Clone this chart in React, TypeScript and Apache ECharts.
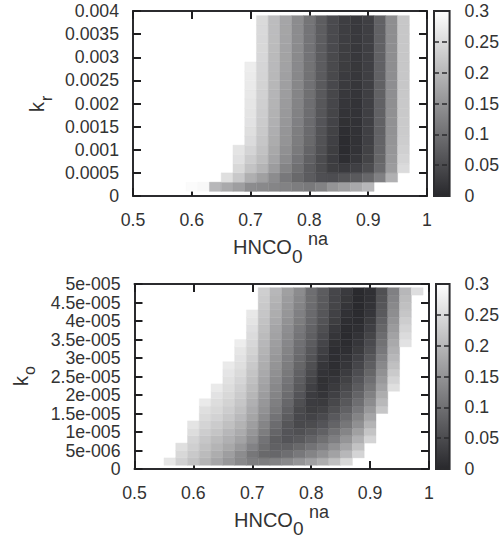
import React, { useEffect, useRef } from "react";
import * as echarts from "echarts";

const _ = null;
const FONT = "Liberation Sans";
const INK = "#2b2b2e";
const xCenters = [0.52, 0.54, 0.56, 0.58, 0.6, 0.62, 0.64, 0.66, 0.68, 0.7, 0.72, 0.74, 0.76, 0.78, 0.8, 0.82, 0.84, 0.86, 0.88, 0.9, 0.92, 0.94, 0.96, 0.98];

// k_r panel: rows from k_r = 0.0002 up to 0.0038
const krRows = [
  [_, _, _, _, 0.295, 0.29, 0.2, 0.18, 0.165, 0.14, 0.135, 0.13, 0.125, 0.118, 0.113, 0.125, 0.15, 0.165, 0.18, 0.2, _, _, _, _],
  [_, _, _, _, _, _, _, 0.255, 0.223, 0.188, 0.167, 0.14, 0.112, 0.09, 0.073, 0.055, 0.052, 0.06, 0.07, 0.088, 0.123, 0.19, _, _],
  [_, _, _, _, _, _, _, _, 0.245, 0.216, 0.195, 0.162, 0.128, 0.1, 0.073, 0.05, 0.03, 0.025, 0.034, 0.05, 0.092, 0.162, 0.25, _],
  [_, _, _, _, _, _, _, _, 0.257, 0.229, 0.208, 0.173, 0.14, 0.108, 0.078, 0.05, 0.028, 0.008, 0.02, 0.039, 0.086, 0.156, 0.24, _],
  [_, _, _, _, _, _, _, _, 0.262, 0.24, 0.215, 0.178, 0.145, 0.114, 0.084, 0.056, 0.03, 0.006, 0.016, 0.036, 0.084, 0.154, 0.235, _],
  [_, _, _, _, _, _, _, _, _, 0.25, 0.22, 0.184, 0.15, 0.118, 0.09, 0.058, 0.034, 0.006, 0.014, 0.034, 0.082, 0.15, 0.23, _],
  [_, _, _, _, _, _, _, _, _, 0.255, 0.224, 0.187, 0.152, 0.12, 0.092, 0.06, 0.036, 0.008, 0.014, 0.034, 0.08, 0.148, 0.228, _],
  [_, _, _, _, _, _, _, _, _, 0.26, 0.227, 0.19, 0.155, 0.123, 0.094, 0.062, 0.038, 0.012, 0.014, 0.032, 0.08, 0.146, 0.226, _],
  [_, _, _, _, _, _, _, _, _, 0.262, 0.23, 0.192, 0.158, 0.125, 0.096, 0.064, 0.04, 0.016, 0.015, 0.032, 0.079, 0.145, 0.225, _],
  [_, _, _, _, _, _, _, _, _, 0.265, 0.233, 0.195, 0.16, 0.128, 0.098, 0.066, 0.042, 0.02, 0.016, 0.032, 0.079, 0.144, 0.224, _],
  [_, _, _, _, _, _, _, _, _, 0.268, 0.236, 0.197, 0.163, 0.13, 0.1, 0.068, 0.043, 0.023, 0.018, 0.032, 0.079, 0.143, 0.223, _],
  [_, _, _, _, _, _, _, _, _, 0.27, 0.238, 0.199, 0.166, 0.132, 0.102, 0.07, 0.045, 0.025, 0.02, 0.032, 0.079, 0.143, 0.222, _],
  [_, _, _, _, _, _, _, _, _, 0.272, 0.24, 0.201, 0.168, 0.134, 0.103, 0.071, 0.046, 0.027, 0.021, 0.032, 0.079, 0.142, 0.222, _],
  [_, _, _, _, _, _, _, _, _, 0.275, 0.242, 0.203, 0.17, 0.136, 0.104, 0.072, 0.047, 0.029, 0.022, 0.032, 0.079, 0.142, 0.222, _],
  [_, _, _, _, _, _, _, _, _, _, 0.244, 0.204, 0.171, 0.137, 0.105, 0.073, 0.047, 0.03, 0.023, 0.032, 0.079, 0.142, 0.222, _],
  [_, _, _, _, _, _, _, _, _, _, 0.245, 0.205, 0.172, 0.138, 0.105, 0.073, 0.048, 0.03, 0.023, 0.032, 0.079, 0.142, 0.222, _],
  [_, _, _, _, _, _, _, _, _, _, 0.246, 0.206, 0.173, 0.139, 0.106, 0.074, 0.048, 0.031, 0.024, 0.032, 0.079, 0.142, 0.222, _],
  [_, _, _, _, _, _, _, _, _, _, 0.247, 0.207, 0.174, 0.14, 0.106, 0.074, 0.048, 0.031, 0.024, 0.032, 0.079, 0.142, 0.222, _],
  [_, _, _, _, _, _, _, _, _, _, 0.248, 0.207, 0.175, 0.14, 0.107, 0.074, 0.048, 0.031, 0.024, 0.032, 0.079, 0.142, 0.222, _],
];

// k_o panel: rows from k_o = 2e-6 up to 4.8e-5
const koRows = [
  [_, _, 0.265, 0.235, 0.215, 0.195, 0.175, 0.155, 0.135, 0.12, 0.118, 0.125, 0.135, 0.15, 0.168, 0.185, 0.21, 0.245, _, _, _, _, _, _],
  [_, _, _, 0.245, 0.225, 0.205, 0.185, 0.165, 0.14, 0.11, 0.09, 0.088, 0.098, 0.112, 0.128, 0.146, 0.17, 0.2, 0.24, _, _, _, _, _],
  [_, _, _, 0.255, 0.233, 0.212, 0.195, 0.178, 0.156, 0.126, 0.097, 0.08, 0.078, 0.09, 0.105, 0.122, 0.146, 0.175, 0.215, _, _, _, _, _],
  [_, _, _, _, 0.24, 0.22, 0.205, 0.19, 0.172, 0.142, 0.105, 0.076, 0.062, 0.068, 0.082, 0.1, 0.122, 0.152, 0.19, 0.24, _, _, _, _],
  [_, _, _, _, 0.252, 0.23, 0.217, 0.2, 0.183, 0.154, 0.118, 0.085, 0.062, 0.056, 0.065, 0.08, 0.102, 0.13, 0.167, 0.217, _, _, _, _],
  [_, _, _, _, 0.262, 0.24, 0.228, 0.212, 0.194, 0.165, 0.13, 0.095, 0.064, 0.046, 0.05, 0.062, 0.084, 0.11, 0.145, 0.195, _, _, _, _],
  [_, _, _, _, _, 0.248, 0.237, 0.222, 0.203, 0.174, 0.14, 0.105, 0.072, 0.045, 0.038, 0.048, 0.069, 0.094, 0.128, 0.175, _, _, _, _],
  [_, _, _, _, _, 0.255, 0.245, 0.23, 0.212, 0.182, 0.148, 0.114, 0.08, 0.046, 0.03, 0.036, 0.056, 0.08, 0.112, 0.156, 0.22, _, _, _],
  [_, _, _, _, _, 0.27, 0.252, 0.238, 0.22, 0.19, 0.155, 0.121, 0.088, 0.054, 0.028, 0.026, 0.044, 0.067, 0.098, 0.14, 0.202, _, _, _],
  [_, _, _, _, _, _, 0.26, 0.245, 0.228, 0.198, 0.162, 0.128, 0.095, 0.062, 0.028, 0.018, 0.034, 0.056, 0.084, 0.124, 0.185, _, _, _],
  [_, _, _, _, _, _, 0.27, 0.252, 0.235, 0.205, 0.169, 0.134, 0.102, 0.068, 0.034, 0.014, 0.026, 0.046, 0.072, 0.11, 0.17, 0.255, _, _],
  [_, _, _, _, _, _, _, 0.258, 0.242, 0.212, 0.175, 0.14, 0.108, 0.074, 0.04, 0.012, 0.02, 0.036, 0.062, 0.098, 0.158, 0.24, _, _],
  [_, _, _, _, _, _, _, 0.264, 0.248, 0.218, 0.18, 0.145, 0.113, 0.08, 0.047, 0.016, 0.012, 0.028, 0.052, 0.086, 0.146, 0.226, _, _],
  [_, _, _, _, _, _, _, 0.27, 0.255, 0.225, 0.185, 0.15, 0.118, 0.086, 0.054, 0.02, 0.008, 0.02, 0.042, 0.075, 0.135, 0.212, _, _],
  [_, _, _, _, _, _, _, _, 0.26, 0.232, 0.19, 0.155, 0.123, 0.091, 0.06, 0.027, 0.008, 0.015, 0.034, 0.065, 0.123, 0.2, _, _],
  [_, _, _, _, _, _, _, _, 0.265, 0.238, 0.195, 0.16, 0.128, 0.096, 0.066, 0.034, 0.008, 0.01, 0.026, 0.056, 0.112, 0.19, _, _],
  [_, _, _, _, _, _, _, _, 0.275, 0.244, 0.2, 0.165, 0.133, 0.101, 0.072, 0.041, 0.012, 0.006, 0.02, 0.048, 0.103, 0.18, 0.26, _],
  [_, _, _, _, _, _, _, _, _, 0.25, 0.205, 0.17, 0.138, 0.106, 0.077, 0.048, 0.018, 0.004, 0.016, 0.04, 0.095, 0.17, 0.25, _],
  [_, _, _, _, _, _, _, _, _, 0.256, 0.21, 0.175, 0.143, 0.112, 0.083, 0.054, 0.024, 0.006, 0.01, 0.032, 0.086, 0.16, 0.24, _],
  [_, _, _, _, _, _, _, _, _, 0.262, 0.215, 0.18, 0.148, 0.118, 0.088, 0.06, 0.03, 0.008, 0.006, 0.026, 0.078, 0.15, 0.23, _],
  [_, _, _, _, _, _, _, _, _, 0.268, 0.22, 0.185, 0.153, 0.123, 0.092, 0.064, 0.035, 0.013, 0.004, 0.02, 0.07, 0.142, 0.221, _],
  [_, _, _, _, _, _, _, _, _, _, 0.225, 0.19, 0.158, 0.128, 0.095, 0.068, 0.04, 0.018, 0.003, 0.016, 0.064, 0.135, 0.212, _],
  [_, _, _, _, _, _, _, _, _, _, 0.229, 0.195, 0.162, 0.134, 0.097, 0.07, 0.041, 0.022, 0.003, 0.013, 0.06, 0.129, 0.206, _],
  [_, _, _, _, _, _, _, _, _, _, 0.233, 0.2, 0.167, 0.14, 0.098, 0.073, 0.042, 0.025, 0.003, 0.011, 0.056, 0.123, 0.2, 0.254],
];

const xTicks = ["0.5", "0.6", "0.7", "0.8", "0.9", "1"];
const krTicks = ["0", "0.0005", "0.001", "0.0015", "0.002", "0.0025", "0.003", "0.0035", "0.004"];
const koTicks = ["0", "5e-006", "1e-005", "1.5e-005", "2e-005", "2.5e-005", "3e-005", "3.5e-005", "4e-005", "4.5e-005", "5e-005"];
const cbTicks = ["0", "0.05", "0.1", "0.15", "0.2", "0.25", "0.3"];
const cbDomain = [[0, 0.3]];

const toCells = (rows: any[][], yStep: number) => {
  const out: number[][] = [];
  rows.forEach((row, r) => row.forEach((v, c) => {
    if (v !== null) out.push([xCenters[c], (r + 1) * yStep, v]);
  }));
  return out;
};

const cellRenderer = (xStep: number, yStep: number) => (_p: any, api: any) => {
  const a = api.coord([api.value(0) - xStep / 2, api.value(1) + yStep / 2]);
  const b = api.coord([api.value(0) + xStep / 2, api.value(1) - yStep / 2]);
  const color = api.visual("color");
  return {
    type: "rect",
    shape: { x: a[0], y: a[1], width: b[0] - a[0], height: b[1] - a[1] },
    style: { fill: color, stroke: color, lineWidth: 0.4 },
  };
};

const barRenderer = (_p: any, api: any) => {
  const a = api.coord([0, api.value(1)]);
  const b = api.coord([1, api.value(0)]);
  return {
    type: "rect",
    shape: { x: a[0], y: a[1], width: b[0] - a[0], height: b[1] - a[1] },
    style: {
      fill: new echarts.graphic.LinearGradient(0, 0, 0, 1, [
        { offset: 0, color: "#ffffff" },
        { offset: 1, color: "#28282c" },
      ]),
      stroke: INK,
      lineWidth: 2,
    },
  };
};

const label = (text: string, x: number, y: number, fontSize: number, rotation = 0) => ({
  type: "text",
  x,
  y,
  rotation,
  style: { text, fontSize, fontFamily: FONT, fill: "#333", textAlign: "left", textVerticalAlign: "middle" },
});

export default function App() {
  const ref = useRef<HTMLDivElement>(null);
  useEffect(() => {
    const chart = echarts.init(ref.current!, undefined, { renderer: "svg" });
    const line = { show: true, onZero: false, lineStyle: { color: INK, width: 2 } };
    const tick = { show: true, inside: true, length: 8, lineStyle: { color: "#1e1e20", width: 2 } };
    const text = { fontFamily: FONT, fontSize: 17.7, color: "#333", hideOverlap: false, showMinLabel: true, showMaxLabel: true };
    const mainX = (gridIndex: number) => ({
      type: "value", gridIndex, min: 0.5, max: 1, interval: 0.1, position: "bottom",
      axisLine: line, axisTick: tick, splitLine: { show: false },
      axisLabel: { ...text, margin: 15, formatter: (v: number) => xTicks[Math.round((v - 0.5) * 10)] },
    });
    const topX = (gridIndex: number) => ({
      type: "value", gridIndex, min: 0.5, max: 1, interval: 0.1, position: "top",
      axisLine: line, axisTick: tick, splitLine: { show: false }, axisLabel: { show: false },
    });
    const mainY = (gridIndex: number, max: number, interval: number, labels: string[]) => ({
      type: "value", gridIndex, min: 0, max, interval, position: "left",
      axisLine: line, axisTick: tick, splitLine: { show: false },
      axisLabel: { ...text, margin: 14, formatter: (v: number) => labels[Math.round(v / interval)] },
    });
    const rightY = (gridIndex: number, max: number, interval: number) => ({
      type: "value", gridIndex, min: 0, max, interval, position: "right",
      axisLine: line, axisTick: tick, splitLine: { show: false }, axisLabel: { show: false },
    });
    const barX = (gridIndex: number) => ({ type: "value", gridIndex, min: 0, max: 1, show: false });
    const barY = (gridIndex: number) => ({
      type: "value", gridIndex, min: 0, max: 0.3, interval: 0.05, position: "right", z: 5,
      axisLine: { show: false }, axisTick: { show: false },
      splitLine: { show: true, lineStyle: { color: INK, width: 1.5, type: [5, 3] } },
      axisLabel: { ...text, margin: 15, formatter: (v: number) => cbTicks[Math.round(v / 0.05)] },
    });

    chart.setOption({
      animation: false,
      backgroundColor: "#fff",
      grid: [
        { left: 133, top: 11, width: 294, height: 185 },
        { left: 134.5, top: 284, width: 294.5, height: 185 },
        { left: 434, top: 11, width: 16, height: 185 },
        { left: 436, top: 284, width: 16, height: 185 },
      ],
      xAxis: [mainX(0), mainX(1), barX(2), barX(3), topX(0), topX(1)],
      yAxis: [
        mainY(0, 0.004, 0.0005, krTicks),
        mainY(1, 0.00005, 0.000005, koTicks),
        barY(2),
        barY(3),
        rightY(0, 0.004, 0.0005),
        rightY(1, 0.00005, 0.000005),
      ],
      visualMap: {
        show: false, type: "continuous", min: 0, max: 0.3, dimension: 2, seriesIndex: [0, 1],
        inRange: { color: ["#28282c", "#ffffff"] },
      },
      series: [
        { type: "custom", xAxisIndex: 0, yAxisIndex: 0, data: toCells(krRows, 0.0002), renderItem: cellRenderer(0.02, 0.0002), encode: { x: 0, y: 1 }, silent: true },
        { type: "custom", xAxisIndex: 1, yAxisIndex: 1, data: toCells(koRows, 0.000002), renderItem: cellRenderer(0.02, 0.000002), encode: { x: 0, y: 1 }, silent: true },
        { type: "custom", xAxisIndex: 2, yAxisIndex: 2, data: cbDomain, renderItem: barRenderer, silent: true },
        { type: "custom", xAxisIndex: 3, yAxisIndex: 3, data: cbDomain, renderItem: barRenderer, silent: true },
      ],
      graphic: [
        label("HNCO", 233, 247, 20),
        label("0", 292, 256, 19),
        label("na", 308, 239, 18),
        label("HNCO", 234, 520, 20),
        label("0", 293, 528, 19),
        label("na", 309, 512, 18),
        label("k", 37, 112, 20, Math.PI / 2),
        label("r", 46, 101, 16, Math.PI / 2),
        label("k", 21, 386, 20, Math.PI / 2),
        label("o", 29, 375, 16, Math.PI / 2),
      ],
    });
    return () => chart.dispose();
  }, []);
  return <div ref={ref} style={{ position: "absolute", left: 0, top: 0, width: 502, height: 537 }} />;
}
